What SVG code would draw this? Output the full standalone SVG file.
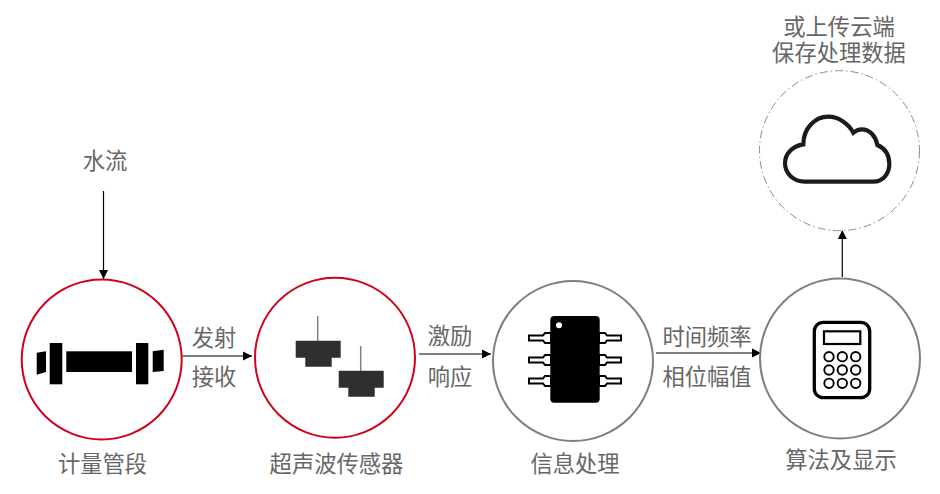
<svg xmlns="http://www.w3.org/2000/svg" width="940" height="494" viewBox="0 0 940 494">
<style>
text{font-family:"Noto Sans CJK SC","Liberation Sans",sans-serif;font-size:22.3px;fill:#666;text-anchor:middle}
.red{fill:#fff;stroke:#d0021b;stroke-width:2}
.gray{fill:#fff;stroke:#7f7f7f;stroke-width:2}
.conn{fill:none;stroke:#000;stroke-width:1.2;marker-end:url(#arrow)}
.pin{fill:#fff;stroke:#000;stroke-width:2}
.btn{fill:#fff;stroke:#000;stroke-width:1.9}
</style>
<defs>
<marker id="arrow" markerUnits="userSpaceOnUse" markerWidth="10" markerHeight="10" refX="9" refY="5" orient="auto"><path d="M0,0.5 L9,5 L0,9.5 Z" fill="#000"/></marker>
</defs>
<g id="connectors">
<path class="conn" d="M103.5,191 V279"/>
<path class="conn" d="M182,356 H252"/>
<path class="conn" d="M419,354 H491"/>
<path class="conn" d="M656,353 H761"/>
<path class="conn" d="M842.3,277 V230"/>
</g>
<g id="water-label"><text x="105" y="169">水流</text></g>
<g id="meter">
<circle class="red" cx="101.7" cy="359.5" r="80"/>
<g fill="#000">
<path d="M36.7,352.7 L46,351.3 V372 L36.7,374.7 Z"/>
<rect x="49.7" y="343" width="12.6" height="41.3"/>
<rect x="66.3" y="351.3" width="65.7" height="20.7"/>
<rect x="136" y="343" width="12.3" height="41.3"/>
<path d="M152.7,351.3 L163.7,349.7 V371 L152.7,372 Z"/>
</g>
<text x="102.500" y="472">计量管段</text>
</g>
<g id="sensor">
<circle class="red" cx="335" cy="357.7" r="80"/>
<path d="M317.7,316 V341 M360.700,346 V371" stroke="#808080" stroke-width="1.500" fill="none"/>
<path d="M295.700,340.700 H340.700 V357.700 H331.700 V366.700 H305.300 V357.700 H295.700 Z" fill="#2f2f2f"/>
<path d="M338.700,370.700 H383.700 V387.700 H374.700 V396.700 H348.300 V387.700 H338.700 Z" fill="#2f2f2f"/>
<text x="336.500" y="472">超声波传感器</text>
</g>
<g id="signal">
<circle class="gray" cx="573" cy="361" r="80"/>
<path class="pin" d="M551,333 H545 L543,335.500 H529 V340.500 H543 L545,343 H551 Z"/>
<path class="pin" d="M551,355 H545 L543,357.500 H529 V362.500 H543 L545,365 H551 Z"/>
<path class="pin" d="M551,376 H545 L543,378.500 H529 V383.500 H543 L545,386 H551 Z"/>
<path class="pin" d="M599,333 H605 L607,335.500 H621 V340.500 H607 L605,343 H599 Z"/>
<path class="pin" d="M599,355 H605 L607,357.500 H621 V362.500 H607 L605,365 H599 Z"/>
<path class="pin" d="M599,376 H605 L607,378.500 H621 V383.500 H607 L605,386 H599 Z"/>
<rect x="550.300" y="316" width="49.400" height="86.700" rx="4" fill="#000"/>
<circle cx="559" cy="325.300" r="3" fill="#fff"/>
<text x="575" y="472">信息处理</text>
</g>
<g id="algo">
<circle class="gray" cx="840" cy="358.500" r="80"/>
<rect x="814.300" y="322.300" width="55.400" height="75.400" rx="9" fill="#fff" stroke="#000" stroke-width="3.300"/>
<rect x="824" y="331.300" width="36.300" height="12.700" fill="#fff" stroke="#000" stroke-width="2.200"/>
<circle class="btn" cx="829" cy="356.700" r="4.700"/><circle class="btn" cx="842.300" cy="356.700" r="4.700"/><circle class="btn" cx="855.700" cy="356.700" r="4.700"/>
<circle class="btn" cx="829" cy="370" r="4.700"/><circle class="btn" cx="842.300" cy="370" r="4.700"/><circle class="btn" cx="855.700" cy="370" r="4.700"/>
<circle class="btn" cx="829" cy="383.300" r="4.700"/><circle class="btn" cx="842.300" cy="383.300" r="4.700"/><circle class="btn" cx="855.700" cy="383.300" r="4.700"/>
<text x="841" y="468">算法及显示</text>
</g>
<g id="cloud">
<circle cx="839.500" cy="150.700" r="80" fill="#fff" stroke="#8c8c8c" stroke-width="1" stroke-dasharray="8 3 1.500 3"/>
<path transform="translate(750,0) scale(0.3333)" d="M165,545 H370 C400,545 418,520 418,492 C418,465 405,445 382,435 C378,410 360,388 335,388 C325,388 317,392 310,398 C295,370 265,350 235,350 C195,350 160,385 160,433 C130,437 105,460 105,490 C105,520 130,545 165,545 Z" fill="#fff" stroke="#1c1a1a" stroke-width="12.500"/>
<text x="839" y="35">或上传云端</text>
<text x="839" y="61">保存处理数据</text>
</g>
<g id="labels">
<text x="214" y="346">发射</text>
<text x="214" y="385">接收</text>
<text x="450" y="344">激励</text>
<text x="450" y="385">响应</text>
<text x="707" y="345">时间频率</text>
<text x="707" y="385">相位幅值</text>
</g>
</svg>
